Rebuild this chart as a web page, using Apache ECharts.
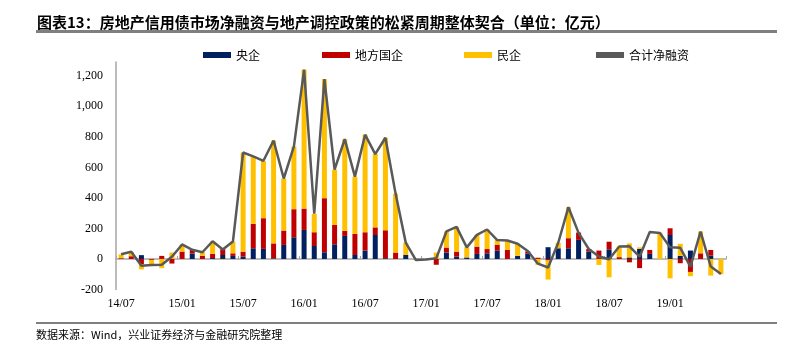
<!DOCTYPE html>
<html>
<head>
<meta charset="utf-8">
<script src="https://cdn.jsdelivr.net/npm/echarts@6/dist/echarts.min.js"></script>
<style>
html, body { margin: 0; padding: 0; background: #fff; }
#chartDiv { width: 796px; height: 354px; }
</style>
</head>
<body>
<div id="chartDiv"></div>
<script>
var months = [
	'14/07', '14/08', '14/09', '14/10', '14/11', '14/12',
	'15/01', '15/02', '15/03', '15/04', '15/05', '15/06',
	'15/07', '15/08', '15/09', '15/10', '15/11', '15/12',
	'16/01', '16/02', '16/03', '16/04', '16/05', '16/06',
	'16/07', '16/08', '16/09', '16/10', '16/11', '16/12',
	'17/01', '17/02', '17/03', '17/04', '17/05', '17/06',
	'17/07', '17/08', '17/09', '17/10', '17/11', '17/12',
	'18/01', '18/02', '18/03', '18/04', '18/05', '18/06',
	'18/07', '18/08', '18/09', '18/10', '18/11', '18/12',
	'19/01', '19/02', '19/03', '19/04', '19/05', '19/06'
];

// 央企
var central = [
	0, 0, 25, 0, 0, 0,
	0, 36, 0, 6, 26, 20,
	15, 70, 66, 4, 92, 142,
	190, 85, 44, 96, 151, 26,
	55, 157, 5, 0, 26, 0,
	0, 0, 42, 15, 10, 33,
	37, 54, 0, 20, 35, 0,
	77, 70, 70, 125, 48, 0,
	63, 0, 10, 66, 33, 0,
	157, 20, 55, 0, 22, 0
];

// 地方国企
var local = [
	5, 18, -33, -6, 20, -30,
	48, 23, 20, 28, 38, 17,
	33, 160, 201, 98, 94, 184,
	140, 90, 354, 127, 33, 138,
	120, 50, 183, 42, 0, -3,
	0, -38, 33, 33, 0, 48,
	28, 40, 59, 0, 15, 8,
	-10, 0, 66, 48, 17, 55,
	50, 12, -22, -60, 26, 0,
	44, -28, -85, 37, 37, 0
];

// 民企
var privateCo = [
	25, 28, -35, -34, -60, 42,
	46, 0, 24, 80, -4, 76,
	648, 442, 375, 673, 340, 410,
	910, 120, 780, 362, 600, 374,
	639, 480, 606, 385, 80, -4,
	-3, 42, 105, 162, 66, 77,
	128, 30, 62, 80, 0, -38,
	-125, 36, 203, 0, 0, -39,
	-120, 70, 92, 10, 0, 172,
	-127, 79, -28, 142, -109, -100
];

// 合计净融资
var total = [
	31, 47, -44, -40, -38, 14,
	95, 60, 44, 116, 62, 114,
	697, 672, 643, 776, 527, 737,
	1240, 297, 1178, 586, 785, 539,
	814, 687, 794, 428, 107, -7,
	-3, 4, 180, 210, 76, 158,
	193, 124, 121, 100, 52, -31,
	-56, 106, 339, 171, 65, 16,
	-2, 82, 83, 15, 176, 170,
	76, 73, -50, 179, -50, -98
];

var cjk = '"Noto Sans CJK SC", sans-serif';
var serif = '"Liberation Serif", "DejaVu Serif", serif';

var chart = echarts.init(document.getElementById('chartDiv'));

function legendAt(name, left) {
	return {
		data: [name],
		left: left,
		top: 44,
		icon: 'rect',
		itemWidth: 28,
		itemHeight: 6,
		itemGap: 4,
		textStyle: { fontFamily: cjk, fontSize: 12, color: '#000' }
	};
}

var option = {
	animation: false,
	title: {
		text: '图表13：房地产信用债市场净融资与地产调控政策的松紧周期整体契合（单位：亿元）',
		left: 32,
		top: 10,
		textStyle: { fontFamily: cjk, fontSize: 15, fontWeight: 'bold', color: '#000' }
	},
	graphic: [
		{ type: 'rect', shape: { x: 36, y: 30, width: 741, height: 3 }, style: { fill: '#7f7f7f' } },
		{ type: 'rect', shape: { x: 36, y: 322, width: 741, height: 2 }, style: { fill: '#7f7f7f' } },
		{
			type: 'text', left: 36, top: 329,
			style: { text: '数据来源：Wind，兴业证券经济与金融研究院整理', fontFamily: cjk, fontSize: 11, fill: '#000' }
		}
	],
	legend: [
		legendAt('央企', 198),
		legendAt('地方国企', 317),
		legendAt('民企', 459),
		legendAt('合计净融资', 591)
	],
	grid: { left: 116, right: 70, top: 62, bottom: 64.5 },
	xAxis: [
		{
			type: 'category',
			data: months,
			position: 'bottom',
			axisLine: { show: false, onZero: false },
			axisTick: { show: false },
			axisLabel: { interval: 5, margin: 8, fontFamily: serif, fontSize: 12, color: '#000' }
		},
		{
			type: 'category',
			data: months,
			position: 'top',
			axisLine: { show: true, onZero: true, lineStyle: { color: '#a6a6a6', width: 1.5 } },
			axisTick: { show: true, interval: 5, length: 3, lineStyle: { color: '#a6a6a6' } },
			axisLabel: { show: false }
		}
	],
	yAxis: {
		type: 'value',
		min: -200,
		max: 1290,
		interval: 200,
		splitLine: { show: false },
		axisTick: { show: false },
		axisLine: { show: true, lineStyle: { color: '#a6a6a6', width: 1.5 } },
		axisLabel: {
			margin: 13,
			fontFamily: serif,
			fontSize: 12,
			color: '#000',
			formatter: function (v) {
				if (v % 200 !== 0) return '';
				return v.toLocaleString('en-US');
			}
		}
	},
	series: [
		{ name: '央企', type: 'bar', stack: 'a', data: central, barWidth: 5, itemStyle: { color: '#002060' } },
		{ name: '地方国企', type: 'bar', stack: 'a', data: local, barWidth: 5, itemStyle: { color: '#c00000' } },
		{ name: '民企', type: 'bar', stack: 'a', data: privateCo, barWidth: 5, itemStyle: { color: '#ffc000' } },
		{
			name: '合计净融资', type: 'line', data: total,
			symbol: 'none', z: 5,
			lineStyle: { color: '#595959', width: 2.5 },
			itemStyle: { color: '#595959' }
		}
	]
};

chart.setOption(option);
</script>
</body>
</html>
